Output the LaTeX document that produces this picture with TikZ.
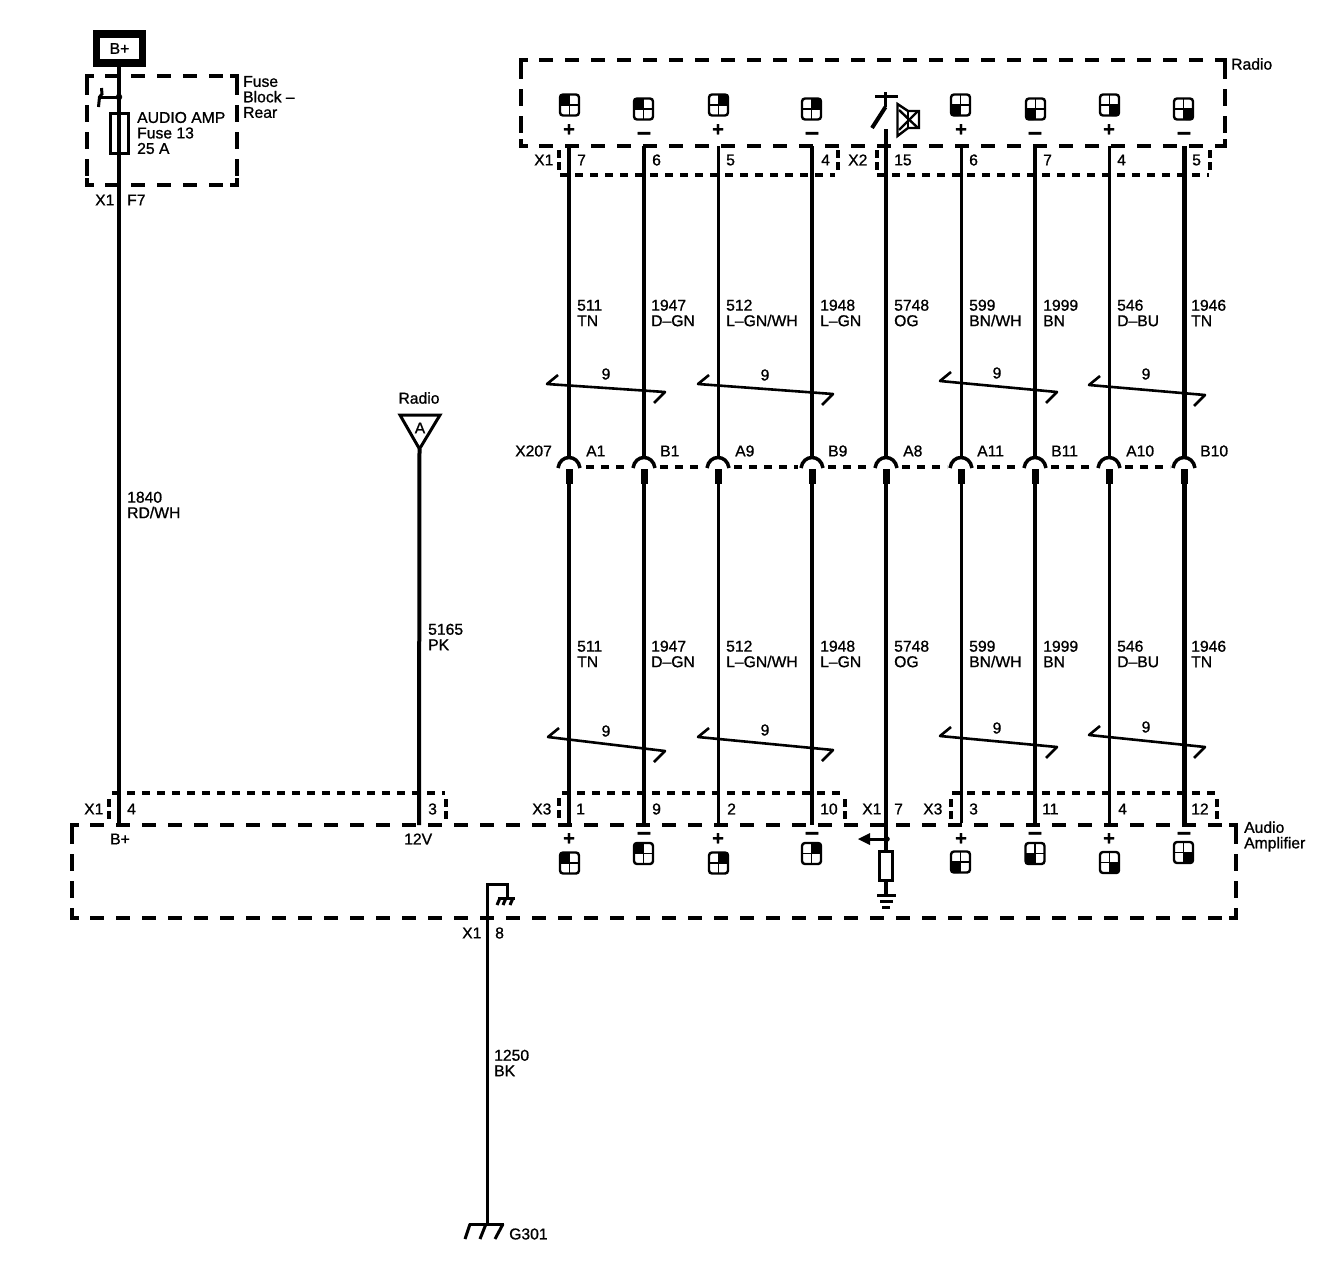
\documentclass[tikz,border=0pt]{standalone}
\usepackage{fontspec}
\setmainfont{Liberation Sans}[FakeBold=1]
\tikzset{
  x=1pt,y=-1pt,
  lbl/.style={font=\fontsize{15.7}{15.5}\selectfont,inner sep=0pt,anchor=west,align=left},
  lblc/.style={lbl,anchor=center},
  polp/.style={font=\fontsize{20}{20}\selectfont\bfseries,inner sep=0pt},
  polm/.style={font=\fontsize{25}{25}\selectfont\bfseries,inner sep=0pt},
  wire/.style={line width=4pt},
  thinwire/.style={line width=3pt},
  heavywire/.style={line width=5pt},
  zoneh/.style={line width=4pt,dash pattern=on 14pt off 12pt,dash phase=8pt},
  zonev/.style={line width=4pt,dash pattern=on 17pt off 10pt,dash phase=25pt},
  zonec/.style={line width=4pt,line cap=butt},
  conn/.style={line width=3.5pt,dash pattern=on 8pt off 7pt},
  connv/.style={line width=3.5pt,dash pattern=on 8pt off 4pt},
  twist/.style={line width=2.6pt,line join=round},
  part/.style={line width=3pt}
}
\newcommand{\zone}[5]{
  \coordinate (#1tl) at (#2,#3);
  \coordinate (#1tr) at (#4,#3);
  \coordinate (#1bl) at (#2,#5);
  \coordinate (#1br) at (#4,#5);
  \draw [zoneh] (#1tl) -- (#1tr);
  \draw [zoneh] (#1bl) -- (#1br);
  \draw [zonev] (#1tl) -- (#1bl);
  \draw [zonev] (#1tr) -- (#1br);
  \draw [zonec] (#2,#3+7) -- (#1tl) -- (#2+7,#3);
  \draw [zonec] (#4,#3+7) -- (#1tr) -- (#4-7,#3);
  \draw [zonec] (#2,#5-7) -- (#1bl) -- (#2+7,#5);
  \draw [zonec] (#4,#5-7) -- (#1br) -- (#4-7,#5);
}
\newcommand{\cavity}[4]{
  \fill [rounded corners=2pt] (#1,#2) rectangle (#1+10*#3,#2+11*#4);
  \draw [line width=1.5pt] (#1,#2-10) -- (#1,#2+10);
  \draw [line width=1.5pt] (#1-9,#2) -- (#1+9,#2);
  \draw [line width=2.4pt,rounded corners=3pt] (#1-9.5,#2-10.5) rectangle (#1+9.5,#2+10.5);
}
\newcommand{\splice}[2]{
  \draw [line width=3.5pt] (#1-11,468) .. controls (#1-9,454) and (#1+9,454) .. (#1+11,468);
  \draw [line width=7pt] (#1,469) -- (#1,484);
  \draw [#2] (#1,484) -- (#1,490);
}
\newcommand{\shield}[4]{
  \draw [twist] (#1+11,#2-9) -- (#1,#2) -- (#3,#4) -- (#3-11,#4+11);
}
\begin{document}
\begin{tikzpicture}
\useasboundingbox (0,0) rectangle (1338,1280);

\zone{fuse}{87}{76}{237}{185}
\zone{radio}{521}{60}{1225}{146}
\zone{amp}{72}{825}{1236}{918}

% battery feed
\node (bplus) [lblc,draw,line width=7.5pt,minimum width=46pt,minimum height=29pt] at (119.5,48.5) {B+};
\coordinate (fusetop) at (119,63);
\coordinate (ampbplus) at (119,825);
\coordinate (tap) at (119,97);
\draw [wire] (fusetop) -- (ampbplus);
\draw [part] (110.5,113.5) rectangle (128.5,153.5);
\draw [fill] (tap) circle (3);
\draw [part] (tap) -- (99.5,97);
\draw [part] (101.5,88) -- (102,94) -- (99.5,97) -- (98.5,107);

\node (fuseA) [lbl] at (137,133) {AUDIO AMP\\Fuse 13\\25 A};
\node (fuseB) [lbl] at (243,97) {Fuse\\Block –\\Rear};
\node (fuseX) [lbl] at (95,200) {X1};
\node (fuseF) [lbl] at (127,200) {F7};
\node (wireA) [lbl] at (127,505) {1840\\RD/WH};

% 12V feed
\node (radioA) [lblc] at (419,398) {Radio};
\node (pageA) [lblc] at (420,428) {A};
\coordinate (tria) at (400,415);
\coordinate (trib) at (440,415);
\coordinate (tric) at (419.5,449);
\draw [part,line join=miter] (tria) -- (trib) -- (tric) -- cycle;
\coordinate (amp12) at (419,825);
\draw [wire] (tric) -- (amp12);
\node (wireB) [lbl] at (428,637) {5165\\PK};

% audio wires, radio end
\coordinate (t1) at (569,146);
\coordinate (t2) at (644,146);
\coordinate (t3) at (718,146);
\coordinate (t4) at (812,146);
\coordinate (t5) at (886,129);
\coordinate (t6) at (961,146);
\coordinate (t7) at (1035,146);
\coordinate (t8) at (1109,146);
\coordinate (t9) at (1184,146);
\coordinate (m1) at (569,458);
\coordinate (m2) at (644,458);
\coordinate (m3) at (718,458);
\coordinate (m4) at (812,458);
\coordinate (m5) at (886,458);
\coordinate (m6) at (961,458);
\coordinate (m7) at (1035,458);
\coordinate (m8) at (1109,458);
\coordinate (m9) at (1184,458);
\coordinate (n1) at (569,484);
\coordinate (n2) at (644,484);
\coordinate (n3) at (718,484);
\coordinate (n4) at (812,484);
\coordinate (n5) at (886,484);
\coordinate (n6) at (961,484);
\coordinate (n7) at (1035,484);
\coordinate (n8) at (1109,484);
\coordinate (n9) at (1184,484);
\coordinate (b1) at (569,825);
\coordinate (b2) at (644,825);
\coordinate (b3) at (718,823);
\coordinate (b4) at (812,825);
\coordinate (b5) at (886,850);
\coordinate (b6) at (961,823);
\coordinate (b7) at (1035,825);
\coordinate (b8) at (1109,823);
\coordinate (b9) at (1184,825);

\draw [wire] (t1) -- (m1);
\draw [wire] (t2) -- (m2);
\draw [thinwire] (t3) -- (m3);
\draw [wire] (t4) -- (m4);
\draw [wire] (t5) -- (m5);
\draw [thinwire] (t6) -- (m6);
\draw [wire] (t7) -- (m7);
\draw [thinwire] (t8) -- (m8);
\draw [heavywire] (t9) -- (m9);
\draw [wire] (n1) -- (b1);
\draw [wire] (n2) -- (b2);
\draw [thinwire] (n3) -- (b3);
\draw [wire] (n4) -- (b4);
\draw [wire] (n5) -- (b5);
\draw [thinwire] (n6) -- (b6);
\draw [wire] (n7) -- (b7);
\draw [thinwire] (n8) -- (b8);
\draw [heavywire] (n9) -- (b9);

% speaker terminals, radio
\cavity{569.5}{105}{-1}{-1}
\cavity{643.5}{109}{-1}{-1}
\cavity{718.5}{105}{1}{-1}
\cavity{811.5}{109}{1}{-1}
\cavity{960.5}{105}{-1}{1}
\cavity{1035.5}{109}{-1}{1}
\cavity{1109.5}{105}{1}{1}
\cavity{1183.5}{109}{1}{1}
\node (rp1) [polp] at (569,130) {+};
\node (rm2) [polm] at (644,136) {–};
\node (rp3) [polp] at (718,130) {+};
\node (rm4) [polm] at (812,136) {–};
\node (rp6) [polp] at (961,130) {+};
\node (rm7) [polm] at (1035,136) {–};
\node (rp8) [polp] at (1109,130) {+};
\node (rm9) [polm] at (1184,136) {–};

% antenna
\draw [part] (875,96) -- (898,96);
\draw [part] (885.5,92) -- (885.5,107);
\draw [line width=4pt] (885.5,107) -- (872,128);
\draw [line width=2.4pt,line join=miter] (897.5,104) -- (897.5,136) -- (908,128) -- (919,128) -- (919,111) -- (908,111) -- cycle;
\draw [line width=2.4pt] (899,110) -- (918,128);
\draw [line width=2.4pt] (899,130) -- (918,111);
\draw [line width=2pt] (908,111) -- (908,128);

% radio connectors
\coordinate (cxa) at (560,175);
\coordinate (cxb) at (835,175);
\draw [conn] (cxa) -- (cxb);
\draw [connv] (559,150) -- (559,170);
\draw [connv] (838,150) -- (838,170);
\coordinate (cya) at (877,175);
\coordinate (cyb) at (1209,175);
\draw [conn] (cya) -- (cyb);
\draw [connv] (877,150) -- (877,170);
\draw [connv] (1210,150) -- (1210,170);
\node (rx1) [lbl] at (534,160) {X1};
\node (rc7) [lbl] at (577,160) {7};
\node (rc6) [lbl] at (652,160) {6};
\node (rc5) [lbl] at (726,160) {5};
\node (rc4) [lbl] at (821,160) {4};
\node (rx2) [lbl] at (848,160) {X2};
\node (rc15) [lbl] at (894,160) {15};
\node (rd6) [lbl] at (969,160) {6};
\node (rd7) [lbl] at (1043,160) {7};
\node (rd4) [lbl] at (1117,160) {4};
\node (rd5) [lbl] at (1192,160) {5};

\node (radioB) [lbl] at (1231,64) {Radio};

% wire labels, upper
\node (ua1) [lbl] at (577,313) {511\\TN};
\node (ua2) [lbl] at (651,313) {1947\\D–GN};
\node (ua3) [lbl] at (726,313) {512\\L–GN/WH};
\node (ua4) [lbl] at (820,313) {1948\\L–GN};
\node (ua5) [lbl] at (894,313) {5748\\OG};
\node (ua6) [lbl] at (969,313) {599\\BN/WH};
\node (ua7) [lbl] at (1043,313) {1999\\BN};
\node (ua8) [lbl] at (1117,313) {546\\D–BU};
\node (ua9) [lbl] at (1191,313) {1946\\TN};

% twisted pairs, upper
\shield{547}{384}{665}{392}
\shield{698}{384}{833}{394}
\shield{940}{381}{1057}{392}
\shield{1089}{385}{1205}{395}
\node (us1) [lblc] at (606,374) {9};
\node (us2) [lblc] at (765,375) {9};
\node (us3) [lblc] at (997,373) {9};
\node (us4) [lblc] at (1146,374) {9};

% inline connector
\splice{569}{wire}
\splice{644}{wire}
\splice{718}{thinwire}
\splice{812}{wire}
\splice{886}{wire}
\splice{961}{thinwire}
\splice{1035}{wire}
\splice{1109}{thinwire}
\splice{1184}{heavywire}
\coordinate (ga) at (586,467);
\coordinate (gb) at (630,467);
\coordinate (gc) at (660,467);
\coordinate (gd) at (704,467);
\coordinate (ge) at (734,467);
\coordinate (gf) at (798,467);
\coordinate (gg) at (828,467);
\coordinate (gh) at (872,467);
\coordinate (gi) at (902,467);
\coordinate (gj) at (947,467);
\coordinate (gk) at (977,467);
\coordinate (gl) at (1021,467);
\coordinate (gm) at (1051,467);
\coordinate (gn) at (1095,467);
\coordinate (go) at (1125,467);
\coordinate (gp) at (1170,467);
\draw [conn] (ga) -- (gb);
\draw [conn] (gc) -- (gd);
\draw [conn] (ge) -- (gf);
\draw [conn] (gg) -- (gh);
\draw [conn] (gi) -- (gj);
\draw [conn] (gk) -- (gl);
\draw [conn] (gm) -- (gn);
\draw [conn] (go) -- (gp);
\node (xseven) [lbl] at (515,451) {X207};
\node (ja1) [lbl] at (586,451) {A1};
\node (jb1) [lbl] at (660,451) {B1};
\node (ja9) [lbl] at (735,451) {A9};
\node (jb9) [lbl] at (828,451) {B9};
\node (ja8) [lbl] at (903,451) {A8};
\node (ja11) [lbl] at (977,451) {A11};
\node (jb11) [lbl] at (1051,451) {B11};
\node (ja10) [lbl] at (1126,451) {A10};
\node (jb10) [lbl] at (1200,451) {B10};

% wire labels, lower
\node (la1) [lbl] at (577,654) {511\\TN};
\node (la2) [lbl] at (651,654) {1947\\D–GN};
\node (la3) [lbl] at (726,654) {512\\L–GN/WH};
\node (la4) [lbl] at (820,654) {1948\\L–GN};
\node (la5) [lbl] at (894,654) {5748\\OG};
\node (la6) [lbl] at (969,654) {599\\BN/WH};
\node (la7) [lbl] at (1043,654) {1999\\BN};
\node (la8) [lbl] at (1117,654) {546\\D–BU};
\node (la9) [lbl] at (1191,654) {1946\\TN};

% twisted pairs, lower
\shield{548}{737}{665}{751}
\shield{698}{737}{833}{750}
\shield{940}{736}{1057}{747}
\shield{1089}{735}{1205}{747}
\node (ls1) [lblc] at (606,731) {9};
\node (ls2) [lblc] at (765,730) {9};
\node (ls3) [lblc] at (997,728) {9};
\node (ls4) [lblc] at (1146,727) {9};

% amplifier connectors
\coordinate (ca) at (112,793);
\coordinate (cb) at (445,793);
\draw [conn] (ca) -- (cb);
\draw [connv] (109,799) -- (109,819);
\draw [connv] (446,799) -- (446,819);
\coordinate (cc) at (562,793);
\coordinate (cd) at (843,793);
\draw [conn] (cc) -- (cd);
\draw [connv] (559,798) -- (559,818);
\draw [connv] (845,799) -- (845,819);
\coordinate (ce) at (952,793);
\coordinate (cf) at (1215,793);
\draw [conn] (ce) -- (cf);
\draw [connv] (951,799) -- (951,819);
\draw [connv] (1217,799) -- (1217,819);
\node (ax1) [lbl] at (84,809) {X1};
\node (ac4) [lbl] at (127,809) {4};
\node (ac3) [lbl] at (428,809) {3};
\node (ax3) [lbl] at (532,809) {X3};
\node (ae1) [lbl] at (576,809) {1};
\node (ae9) [lbl] at (652,809) {9};
\node (ae2) [lbl] at (727,809) {2};
\node (ae10) [lbl] at (820,809) {10};
\node (ay1) [lbl] at (862,809) {X1};
\node (ae7) [lbl] at (894,809) {7};
\node (az3) [lbl] at (923,809) {X3};
\node (af3) [lbl] at (969,809) {3};
\node (af11) [lbl] at (1042,809) {11};
\node (af4) [lbl] at (1118,809) {4};
\node (af12) [lbl] at (1191,809) {12};
\node (abp) [lbl] at (110,839) {B+};
\node (a12v) [lbl] at (404,839) {12V};
\node (ampA) [lbl] at (1244,836.5) {Audio\\Amplifier};

% speaker terminals, amplifier
\cavity{569.5}{863}{-1}{-1}
\cavity{643.5}{853.5}{-1}{-1}
\cavity{718.5}{863}{1}{-1}
\cavity{811.5}{853.5}{1}{-1}
\cavity{960.5}{862}{-1}{1}
\cavity{1035}{853.5}{-1}{1}
\cavity{1109.5}{862.5}{1}{1}
\cavity{1183.5}{852.5}{1}{1}
\node (ap1) [polp] at (569,839) {+};
\node (am2) [polm] at (644,836) {–};
\node (ap3) [polp] at (718,839) {+};
\node (am4) [polm] at (812,836) {–};
\node (ap6) [polp] at (961,839) {+};
\node (am7) [polm] at (1035,836) {–};
\node (ap8) [polp] at (1109,839) {+};
\node (am9) [polm] at (1184,836) {–};

% shield drain
\coordinate (drain) at (887,839);
\coordinate (draintip) at (858,839);
\draw [part] (drain) -- (868,839);
\fill (draintip) -- (870,833) -- (870,845) -- cycle;
\draw [fill] (drain) circle (2.5);
\draw [part] (879.5,851.5) rectangle (892.5,880.5);
\coordinate (gndtop) at (886,881);
\coordinate (gndbar) at (886,895);
\draw [wire] (gndtop) -- (gndbar);
\draw [part] (877,895.5) -- (896,895.5);
\draw [part] (880,901.5) -- (893,901.5);
\draw [part] (882,907) -- (890,907);

% ground
\coordinate (gwa) at (507,897);
\coordinate (gwb) at (507,884);
\coordinate (gwc) at (487,884);
\coordinate (gwd) at (487,1223);
\draw [part,line join=miter] (gwa) -- (gwb) -- (gwc) -- (gwd);
\draw [part] (498,898) -- (515,898);
\draw [thinwire] (500,898) -- (497,905);
\draw [thinwire] (506,898) -- (503,905);
\draw [thinwire] (513,898) -- (510,905);
\node (gx1) [lbl] at (462,933) {X1};
\node (gc8) [lbl] at (495,933) {8};
\node (wireC) [lbl] at (494,1063) {1250\\BK};
\draw [part] (469,1224) -- (504,1224);
\draw [part] (470,1224) -- (465,1239);
\draw [part] (486,1224) -- (480,1239);
\draw [part] (503,1224) -- (495,1239);
\node (gsym) [lbl] at (509,1234) {G301};
\end{tikzpicture}
\end{document}
